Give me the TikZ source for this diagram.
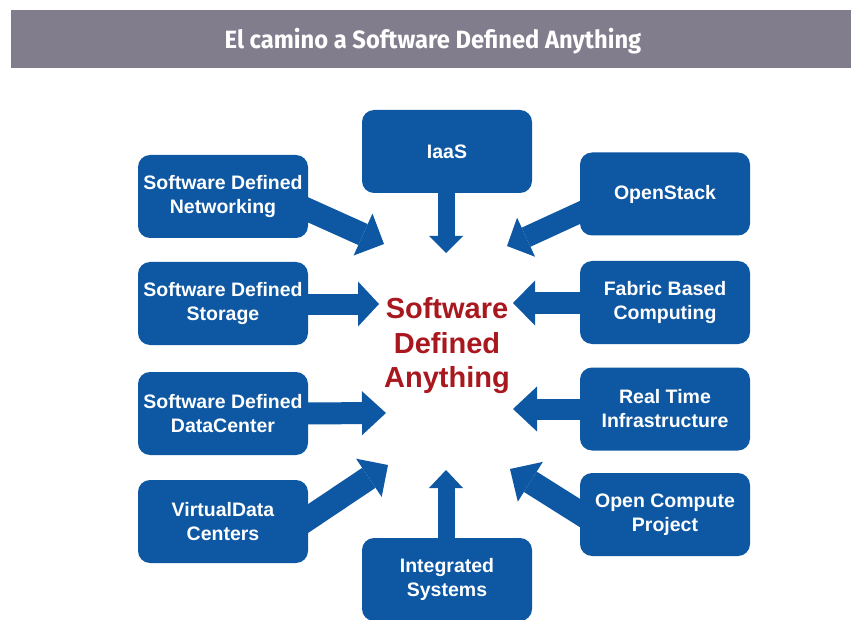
\documentclass[tikz,border=0pt]{standalone}
\usepackage{fontspec}
\setmainfont{Liberation Sans}
\newfontfamily\titlefont[FakeStretch=0.95]{Fira Sans}
\usetikzlibrary{arrows.meta}
\pgfdeclarelayer{back}
\pgfsetlayers{back,main}
\definecolor{boxblue}{RGB}{14,88,163}
\definecolor{titlegray}{RGB}{130,125,141}
\definecolor{centerred}{RGB}{168,24,30}
\tikzset{
  bbox/.style={fill=boxblue, rounded corners=12pt, minimum width=170pt, minimum height=83pt,
    text=white, font=\bfseries\fontsize{19.5}{24}\selectfont, align=center, inner sep=0pt},
  barrow/.style n args={3}{draw=boxblue, line width=#1,
    -{Triangle[length=#2,width=#3,line width=0pt,fill=boxblue]}},
}
\begin{document}
\begin{tikzpicture}[x=1pt,y=-1pt]
\clip (0,0) rectangle (851,620);
\begin{pgfonlayer}{back}
\fill[white] (0,0) rectangle (851,620);
\end{pgfonlayer}
% title bar
\fill[titlegray] (11,10) rectangle (851,68);
\node[text=white, font=\titlefont\bfseries\fontsize{25}{28}\selectfont] (title) at (433,41) {El camino a Software Defined Anything};

% boxes
\node[bbox] (sdn) at (223,196.5) {Software Defined\\Networking};
\node[bbox] (iaas) at (447,151.5) {IaaS};
\node[bbox] (os) at (665,194) {OpenStack};
\node[bbox] (sds) at (223,303.5) {Software Defined\\Storage};
\node[bbox] (fab) at (665,302.5) {Fabric Based\\Computing};
\node[bbox] (sddc) at (223,413.5) {Software Defined\\DataCenter};
\node[bbox] (rt) at (665,409) {Real Time\\Infrastructure};
\node[bbox] (vdc) at (223,521.5) {VirtualData\\Centers};
\node[bbox] (ocp) at (665,514.5) {Open Compute\\Project};
\node[bbox] (is) at (447,579.5) {Integrated\\Systems};

% central text
\node[text=centerred, font=\bfseries\fontsize{29}{34.5}\selectfont, align=center] (sda) at (447,346) {Software\\Defined\\Anything};

% arrow tips
\coordinate (t1) at (384,244);
\coordinate (t2) at (446,253);
\coordinate (t3) at (507,246);
\coordinate (t4) at (379,304);
\coordinate (t5) at (513,303);
\coordinate (t6) at (386,413);
\coordinate (t7) at (513,409);
\coordinate (t8) at (388,465);
\coordinate (t9) at (446,470);
\coordinate (t10) at (510,469);

% arrows (behind the boxes)
\begin{pgfonlayer}{back}
\draw[barrow={23pt}{23pt}{46pt}] ([shift={(-12,8)}]sdn.east) -- (t1);
\draw[barrow={17pt}{17pt}{34pt}] ([shift={(-1,-12)}]iaas.south) -- (t2);
\draw[barrow={21pt}{21pt}{43pt}] ([shift={(12,13)}]os.west) -- (t3);
\draw[barrow={21pt}{21pt}{45pt}] ([shift={(-12,0.5)}]sds.east) -- (t4);
\draw[barrow={21pt}{22pt}{45pt}] ([shift={(12,0.5)}]fab.west) -- (t5);
\draw[barrow={22pt}{24pt}{44pt}] ([shift={(-12,0)}]sddc.east) -- (t6);
\draw[barrow={21pt}{24pt}{45pt}] ([shift={(12,0)}]rt.west) -- (t7);
\draw[barrow={24pt}{23pt}{46pt}] ([shift={(-12,5)}]vdc.east) -- (t8);
\draw[barrow={17pt}{18pt}{34pt}] ([shift={(-1,12)}]is.north) -- (t9);
\draw[barrow={24pt}{24pt}{47pt}] ([shift={(12,6)}]ocp.west) -- (t10);
\end{pgfonlayer}
\end{tikzpicture}
\end{document}
